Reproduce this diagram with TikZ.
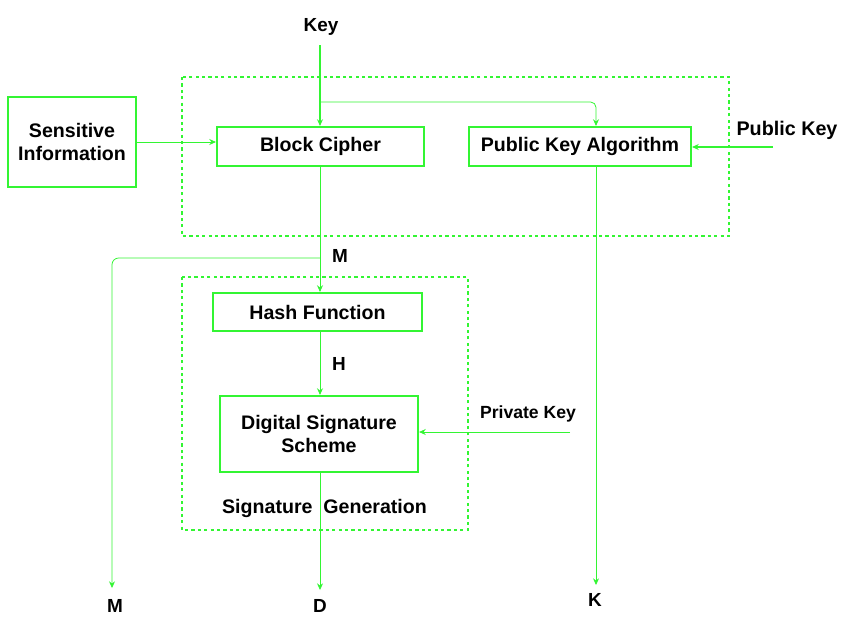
\documentclass[tikz,border=0pt]{standalone}
\usepackage{fontspec}
\setmainfont{Liberation Sans}
\usetikzlibrary{arrows.meta}

\definecolor{lgreen}{RGB}{51,245,51}

\tikzset{
  box/.style={draw=lgreen, line width=1.6pt, inner sep=0pt, align=center,
    font=\fontsize{14.7}{17.2}\selectfont\bfseries},
  group/.style={draw=lgreen, line width=0.8pt, dash pattern=on 2.4pt off 2.4pt},
  flow/.style={draw=lgreen, line width=0.6pt, -{Stealth[length=5pt,width=4.5pt]}},
  lbl/.style={font=\fontsize{14.2}{16}\selectfont\bfseries, inner sep=0pt},
}

\begin{document}
\begin{tikzpicture}[x=0.75pt,y=0.75pt,yscale=-1,xscale=1]
\path[use as bounding box] (0,0) rectangle (852,639);

%Dashed groups
\draw[group] (182,77) rectangle (729,236);
\draw[group] (182,277) rectangle (468,530);

%Boxes
\node[box, minimum width=96pt, minimum height=67.5pt] (sens) at (72,142) {Sensitive\\Information};
\node[box, minimum width=155.25pt, minimum height=29.25pt] (bc) at (320.5,146.5) {Block Cipher};
\node[box, minimum width=166.5pt, minimum height=29.25pt] (pka) at (580,146.5) {Public Key Algorithm};
\node[box, minimum width=156.75pt, minimum height=28.5pt] (hash) at (317.5,312) {Hash Function};
\node[box, minimum width=148.5pt, minimum height=57pt] (dss) at (319,434) {Digital Signature\\Scheme};

% Text Node
\node[lbl] (key) at (321,27) {Key};
\node[lbl, font=\fontsize{14.8}{16}\selectfont\bfseries] (pubkey) at (787,130) {Public Key};
\node[lbl, font=\fontsize{13.2}{15}\selectfont\bfseries] (privkey) at (528,414) {Private Key};
\node[lbl] (mlbl) at (340,256) {M};
\node[lbl] (hlbl) at (339,364) {H};
\node[box, draw=none] (siggen) at (324.5,508) {Signature\ \ Generation};
\node[lbl] (mout) at (115,606) {M};
\node[lbl] (dout) at (320,606) {D};
\node[lbl] (kout) at (595,600) {K};

%Free ends
\coordinate (keytop) at (320,45);
\coordinate (kfork) at (320,102);
\coordinate (mfork) at (320,258);
\coordinate (mend) at (112,588);
\coordinate (dend) at (320,590);
\coordinate (kend) at (596,585);
\coordinate (pubin) at (773,147);
\coordinate (privin) at (570,432);

%Connectors
\draw[flow, line width=1.1pt] (keytop) -- (keytop |- bc.north);
\draw[flow, rounded corners=4] (kfork) -| ([xshift=12pt]pka.north);
\draw[flow, line width=1.1pt] (pubin) -- (pubin -| pka.east);
\draw[flow] (sens.east) -- (sens.east -| bc.west);
\draw[flow] (keytop |- bc.south) -- (keytop |- hash.north);
\draw[flow, rounded corners=5] (mfork) -| (mend);
\draw[flow] (keytop |- hash.south) -- (keytop |- dss.north);
\draw[flow] (privin) -- (privin -| dss.east);
\draw[flow] (keytop |- dss.south) -- (dend);
\draw[flow] ([xshift=12pt]pka.south) -- (kend);

\end{tikzpicture}
\end{document}
